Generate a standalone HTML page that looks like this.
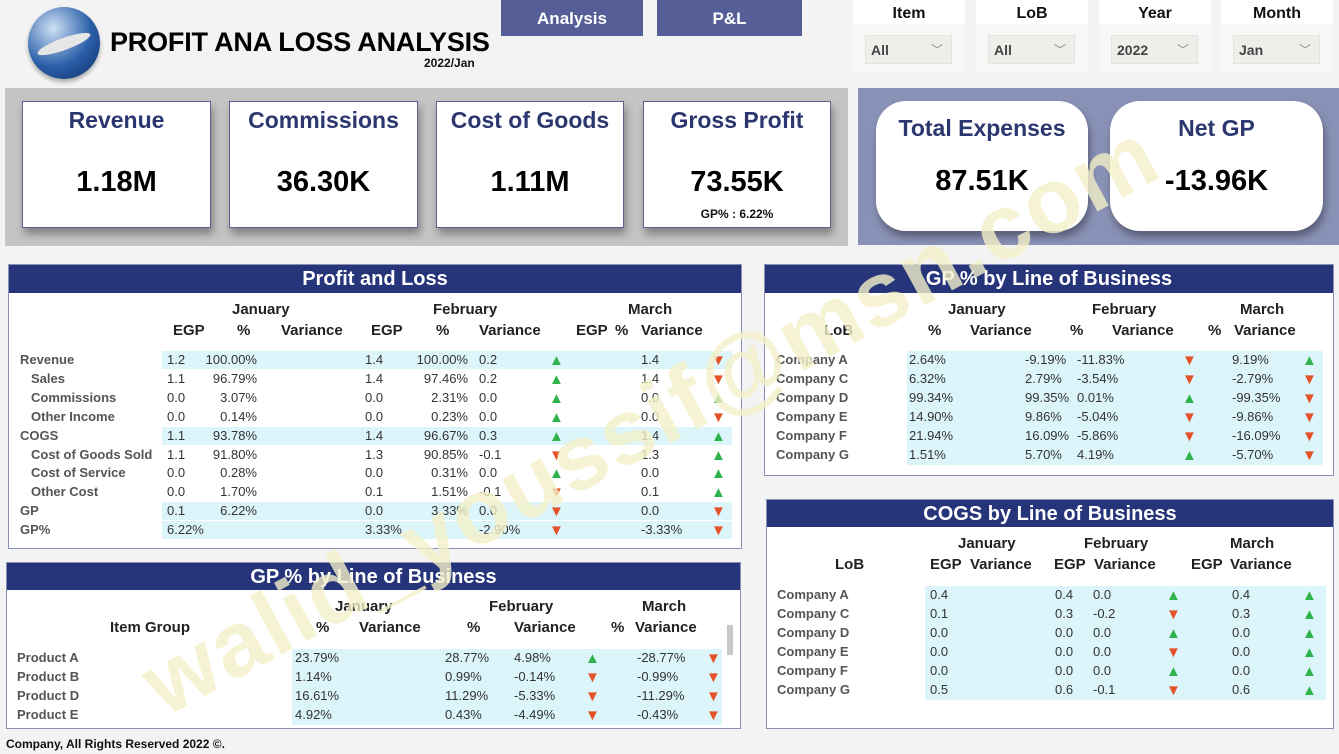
<!DOCTYPE html>
<html><head><meta charset="utf-8">
<style>
*{box-sizing:border-box;margin:0;padding:0}
body{width:1339px;height:754px;background:#f3f3f3;position:relative;overflow:hidden;font-family:"Liberation Sans",sans-serif;color:#333}
.a{position:absolute;white-space:nowrap}
.hdr{position:absolute;background:#26347a;color:#fff;font-weight:bold;font-size:20px;text-align:center;line-height:28px}
.panel{position:absolute;background:#fff;border:1px solid #8890b8}
.card{position:absolute;background:#fff;border:1px solid #5a6190;box-shadow:2px 6px 8px rgba(0,0,0,.35);text-align:center}
.ct{position:absolute;left:0;right:0;top:5px;font-weight:bold;font-size:23px;color:#2b376e}
.cv{position:absolute;left:0;right:0;top:64px;font-weight:bold;font-size:29px;color:#000}
.sl{position:absolute;background:#f7f7f7;top:0;height:72px;width:112px}
.slt{position:absolute;left:0;right:0;top:0;height:24px;background:#fff;text-align:center;font-weight:bold;font-size:16px;color:#111;line-height:28px}
.sld{position:absolute;left:12px;top:35px;width:87px;height:29px;background:#f0eeea;border:1px solid #e6e3dd;font-weight:bold;font-size:14px;color:#444;line-height:29px;padding-left:5px}
.sld span{position:absolute;right:8px;top:0;color:#888;font-size:12px;font-weight:normal}
.th{font-weight:bold;font-size:15px;color:#222}
.td{font-size:13px;color:#333}
.lb{font-size:13px;font-weight:bold;color:#555}
.up{color:#2fb34c;font-size:15px;line-height:15px}
.dn{color:#e5522a;font-size:15px;line-height:15px}
</style></head><body>

<div class="a" style="left:28px;top:7px;width:72px;height:72px;border-radius:50%;background:radial-gradient(circle at 35% 30%,#cfe0f5,#2a5fa8 55%,#0f2c6a);box-shadow:0 3px 4px rgba(0,0,0,.3)"></div>
<div class="a" style="left:36px;top:38px;width:56px;height:12px;border-radius:50%;background:#e6e6e6;transform:rotate(-20deg)"></div>
<div class="a" style="left:110px;top:27px;font-weight:bold;font-size:27px;color:#000;letter-spacing:-0.2px">PROFIT ANA LOSS ANALYSIS</div>
<div class="a" style="left:424px;top:56px;font-weight:bold;font-size:12px;color:#111">2022/Jan</div>

<div class="a" style="left:501px;top:0;width:142px;height:36px;background:#565e97;color:#fff;font-weight:bold;font-size:17px;text-align:center;line-height:38px">Analysis</div>
<div class="a" style="left:657px;top:0;width:145px;height:36px;background:#565e97;color:#fff;font-weight:bold;font-size:17px;text-align:center;line-height:38px">P&amp;L</div>

<div class="sl" style="left:853px"><div class="slt">Item</div><div class="sld">All<span>﹀</span></div></div>
<div class="sl" style="left:976px"><div class="slt">LoB</div><div class="sld">All<span>﹀</span></div></div>
<div class="sl" style="left:1099px"><div class="slt">Year</div><div class="sld">2022<span>﹀</span></div></div>
<div class="sl" style="left:1221px"><div class="slt">Month</div><div class="sld">Jan<span>﹀</span></div></div>

<div class="a" style="left:5px;top:88px;width:843px;height:158px;background:#c4c4c4"></div>
<div class="card" style="left:22px;top:101px;width:189px;height:127px"><div class="ct">Revenue</div><div class="cv">1.18M</div></div>
<div class="card" style="left:229px;top:101px;width:189px;height:127px"><div class="ct">Commissions</div><div class="cv">36.30K</div></div>
<div class="card" style="left:436px;top:101px;width:188px;height:127px"><div class="ct">Cost of Goods</div><div class="cv">1.11M</div></div>
<div class="card" style="left:643px;top:101px;width:188px;height:127px"><div class="ct">Gross Profit</div><div class="cv">73.55K</div><div class="a" style="left:0;right:0;top:105px;font-size:12px;font-weight:bold;color:#111">GP% : 6.22%</div></div>

<div class="a" style="left:858px;top:88px;width:481px;height:157px;background:#8991b6"></div>
<div class="card" style="left:876px;top:101px;width:212px;height:130px;border-radius:30px;border:none"><div class="ct" style="top:14px">Total Expenses</div><div class="cv" style="top:64px">87.51K</div></div>
<div class="card" style="left:1110px;top:101px;width:213px;height:130px;border-radius:30px;border:none"><div class="ct" style="top:14px">Net GP</div><div class="cv" style="top:64px">-13.96K</div></div>

<div class="panel" style="left:8px;top:264px;width:734px;height:285px"></div>
<div class="hdr" style="left:9px;top:265px;width:732px;height:28px">Profit and Loss</div>
<div class="panel" style="left:764px;top:264px;width:570px;height:212px"></div>
<div class="hdr" style="left:765px;top:265px;width:568px;height:28px">GP % by Line of Business</div>
<div class="panel" style="left:766px;top:499px;width:568px;height:230px"></div>
<div class="hdr" style="left:767px;top:500px;width:566px;height:27px">COGS by Line of Business</div>
<div class="panel" style="left:6px;top:562px;width:735px;height:167px"></div>
<div class="hdr" style="left:7px;top:563px;width:733px;height:27px">GP % by Line of Business</div>
<div class="a" style="left:727px;top:625px;width:6px;height:30px;background:#c8c8c8"></div>

<div class="a" style="left:6px;top:737px;font-weight:bold;font-size:12px;color:#111">Company, All Rights Reserved 2022 ©.</div>

<div id="root"></div>
<div class="a" style="left:125px;top:645px;font-weight:bold;font-size:92px;color:rgba(242,240,200,0.8);transform:rotate(-28.5deg);transform-origin:left top;letter-spacing:2px">walid_youssif@msn.com</div>

<script>
// P&L data
const plLabels=["Revenue","Sales","Commissions","Other Income","COGS","Cost of Goods Sold","Cost of Service","Other Cost","GP","GP%"];
const plIndent=[0,1,1,1,0,1,1,1,0,0];
const plJanEGP=["1.2","1.1","0.0","0.0","1.1","1.1","0.0","0.0","0.1","6.22%"];
const plJanPct=["100.00%","96.79%","3.07%","0.14%","93.78%","91.80%","0.28%","1.70%","6.22%",""];
const plFebEGP=["1.4","1.4","0.0","0.0","1.4","1.3","0.0","0.1","0.0","3.33%"];
const plFebPct=["100.00%","97.46%","2.31%","0.23%","96.67%","90.85%","0.31%","1.51%","3.33%",""];
const plFebVar=["0.2","0.2","0.0","0.0","0.3","-0.1","0.0","-0.1","0.0","-2.90%"];
const plFebDir=[1,1,1,1,1,-1,1,-1,-1,-1];
const plMarEGP=["1.4","1.4","0.0","0.0","1.4","1.3","0.0","0.1","0.0","-3.33%"];
const plMarDir=[-1,-1,1,-1,1,1,1,1,-1,-1];
const plBand=[1,0,0,0,1,0,0,0,1,1];
// GP % by LoB
const lobNames=["Company A","Company C","Company D","Company E","Company F","Company G"];
const lobJan=["2.64%","6.32%","99.34%","14.90%","21.94%","1.51%"];
const lobFeb=["-9.19%","2.79%","99.35%","9.86%","16.09%","5.70%"];
const lobFebVar=["-11.83%","-3.54%","0.01%","-5.04%","-5.86%","4.19%"];
const lobFebDir=[-1,-1,1,-1,-1,1];
const lobMar=["9.19%","-2.79%","-99.35%","-9.86%","-16.09%","-5.70%"];
const lobMarDir=[1,-1,-1,-1,-1,-1];
// COGS by LoB
const cogsJan=["0.4","0.1","0.0","0.0","0.0","0.5"];
const cogsFeb=["0.4","0.3","0.0","0.0","0.0","0.6"];
const cogsFebVar=["0.0","-0.2","0.0","0.0","0.0","-0.1"];
const cogsFebDir=[1,-1,1,-1,1,-1];
const cogsMar=["0.4","0.3","0.0","0.0","0.0","0.6"];
const cogsMarDir=[1,1,1,1,1,1];
// GP % by item group
const itemNames=["Product A","Product B","Product D","Product E"];
const itemJan=["23.79%","1.14%","16.61%","4.92%"];
const itemFeb=["28.77%","0.99%","11.29%","0.43%"];
const itemFebVar=["4.98%","-0.14%","-5.33%","-4.49%"];
const itemFebDir=[1,-1,-1,-1];
const itemMar=["-28.77%","-0.99%","-11.29%","-0.43%"];
const itemMarDir=[-1,-1,-1,-1];

const root=document.getElementById('root');
function put(name,x,y,text,cls,extra){
  const el=document.createElement('div');
  el.className='a '+(cls||'');
  el.style.left=x+'px';el.style.top=y+'px';
  if(extra)el.style.cssText+=extra;
  el.textContent=text;
  
  
  root.appendChild(el);return el;
}
function rbox(name,x,y,w,text,cls){
  return put(name,x,y,text,cls,'width:'+w+'px;text-align:right');
}
function band(name,x,y,w,h){
  const el=document.createElement('div');
  el.className='a';
  el.style.cssText='left:'+x+'px;top:'+y+'px;width:'+w+'px;height:'+h+'px;background:#dcf5fb';
  
  
  root.appendChild(el);
}
function arrow(name,x,y,d){return put(name,x-1,y+1,d>0?'▲':'▼',d>0?'up':'dn');}

put('jan-header',232,301,'January','th');
put('feb-header',433,301,'February','th');
put('mar-header',628,301,'March','th');
[['EGP',173],['%',237],['Variance',281],['EGP',371],['%',436],['Variance',479],['EGP',576],['%',615],['Variance',641]].forEach(function(h){put('pl-subheader',h[1],322,h[0],'th');});
const plY0=352,plStep=18.9;
plLabels.forEach(function(l,i){
  const y=plY0+i*plStep;
  if(plBand[i])band('pl-row-band',162,y-1,570,18);
  put('pl-row-label',plIndent[i]?31:20,y,l,'lb');
  put('pl-jan-egp',167,y,plJanEGP[i],'td');
  rbox('pl-jan-pct',200,y,57,plJanPct[i],'td');
  put('pl-feb-egp',365,y,plFebEGP[i],'td');
  rbox('pl-feb-pct',408,y,60,plFebPct[i],'td');
  put('pl-feb-var',479,y,plFebVar[i],'td');
  arrow('pl-feb-arrow',550,y,plFebDir[i]);
  put('pl-mar-egp',641,y,plMarEGP[i],'td');
  arrow('pl-mar-arrow',712,y,plMarDir[i]);
});

put('lob-jan-header',948,301,'January','th');
put('lob-feb-header',1092,301,'February','th');
put('lob-mar-header',1240,301,'March','th');
[['LoB',824],['%',928],['Variance',970],['%',1070],['Variance',1112],['%',1208],['Variance',1234]].forEach(function(h){put('lob-subheader',h[1],322,h[0],'th');});
lobNames.forEach(function(n,i){
  const y=352+i*19;
  band('lob-row-band',907,y-1,416,19);
  put('lob-name',776,y,n,'lb');
  put('lob-jan-pct',909,y,lobJan[i],'td');
  put('lob-feb-pct',1025,y,lobFeb[i],'td');
  put('lob-feb-var',1077,y,lobFebVar[i],'td');
  arrow('lob-feb-arrow',1183,y,lobFebDir[i]);
  put('lob-mar-pct',1232,y,lobMar[i],'td');
  arrow('lob-mar-arrow',1303,y,lobMarDir[i]);
});

put('cogs-jan-header',958,535,'January','th');
put('cogs-feb-header',1084,535,'February','th');
put('cogs-mar-header',1230,535,'March','th');
[['LoB',835],['EGP',930],['Variance',970],['EGP',1054],['Variance',1094],['EGP',1191],['Variance',1230]].forEach(function(h){put('cogs-subheader',h[1],556,h[0],'th');});
lobNames.forEach(function(n,i){
  const y=587+i*19;
  band('cogs-row-band',925,y-1,401,19);
  put('cogs-name',777,y,n,'lb');
  put('cogs-jan-egp',930,y,cogsJan[i],'td');
  put('cogs-feb-egp',1055,y,cogsFeb[i],'td');
  put('cogs-feb-var',1093,y,cogsFebVar[i],'td');
  arrow('cogs-feb-arrow',1167,y,cogsFebDir[i]);
  put('cogs-mar-egp',1232,y,cogsMar[i],'td');
  arrow('cogs-mar-arrow',1303,y,cogsMarDir[i]);
});

put('item-jan-header',335,598,'January','th');
put('item-feb-header',489,598,'February','th');
put('item-mar-header',642,598,'March','th');
[['Item Group',110],['%',316],['Variance',359],['%',467],['Variance',514],['%',611],['Variance',635]].forEach(function(h){put('item-subheader',h[1],619,h[0],'th');});
itemNames.forEach(function(n,i){
  const y=650+i*19;
  band('item-row-band',292,y-1,430,19);
  put('item-name',17,y,n,'lb');
  put('item-jan-pct',295,y,itemJan[i],'td');
  put('item-feb-pct',445,y,itemFeb[i],'td');
  put('item-feb-var',514,y,itemFebVar[i],'td');
  arrow('item-feb-arrow',586,y,itemFebDir[i]);
  put('item-mar-pct',637,y,itemMar[i],'td');
  arrow('item-mar-arrow',707,y,itemMarDir[i]);
});
</script>
</body></html>
